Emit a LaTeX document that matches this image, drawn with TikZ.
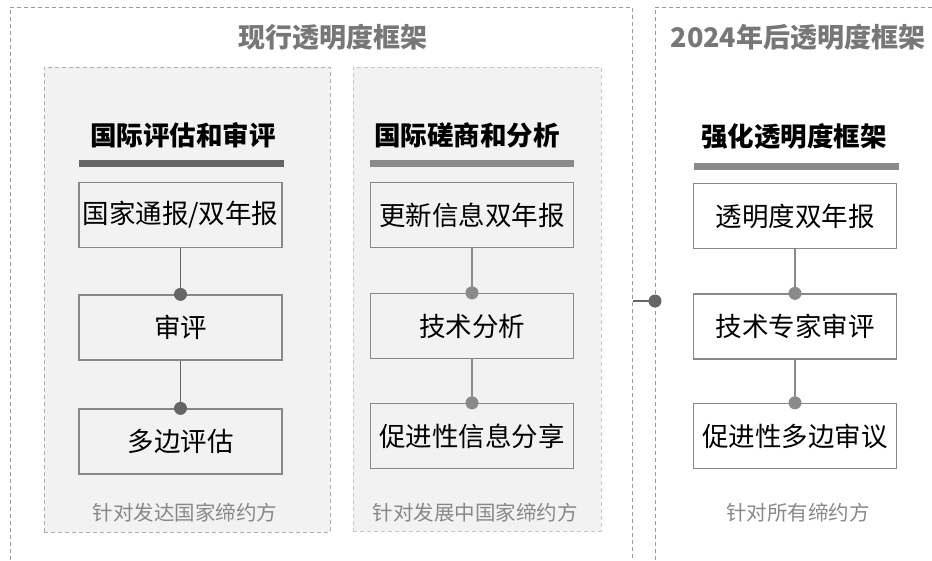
\documentclass[tikz,border=0pt]{standalone}
\usepackage{fontspec}
\setmainfont{Noto Sans CJK SC}
\usetikzlibrary{positioning}

\definecolor{framegray}{HTML}{9A9A9A}
\definecolor{panelfill}{HTML}{F2F2F2}
\definecolor{darkbar}{HTML}{666666}
\definecolor{lightbar}{HTML}{8A8A8A}
\definecolor{titlegray}{HTML}{777777}
\definecolor{notegray}{HTML}{888888}

\tikzset{
  outer/.style={draw=framegray, dash pattern=on 4pt off 3pt, line width=0.9pt},
  panel/.style={draw=framegray!80, fill=panelfill, dash pattern=on 4pt off 3pt, line width=0.9pt},
  title/.style={font=\fontsize{27}{32}\selectfont\bfseries, text=titlegray},
  header/.style={font=\fontsize{26.5}{31}\selectfont\bfseries, text=black},
  stepbox/.style={draw=notegray, line width=1.3pt, minimum width=203, minimum height=65,
    font=\fontsize{26.5}{31}\selectfont, inner sep=0pt},
  note/.style={font=\fontsize{20.5}{25}\selectfont, text=notegray},
  link/.style={line width=1.3pt},
}

\begin{document}
\begin{tikzpicture}[x=1pt,y=-1pt]
  \useasboundingbox (0,0) rectangle (932,560);
  \clip (0,0) rectangle (932,560);

  % outer frames
  \node[outer, minimum width=622, minimum height=580, anchor=north west] (cur) at (10,7) {};
  \node[outer, minimum width=300, minimum height=580, anchor=north west] (new) at (655,7) {};
  \node[title] (curT) at (333,37) {现行透明度框架};
  \node[title] (newT) at (798,37) {2024年后透明度框架};

  % inner panels
  \node[panel, minimum width=286, minimum height=465] (p1) at (187,299.5) {};
  \node[panel, draw=framegray!55, minimum width=248, minimum height=464] (p2) at (477,299) {};

  % headers and bars
  \node[header] (h1) at (183,135) {国际评估和审评};
  \node[header] (h2) at (467,135) {国际磋商和分析};
  \node[header] (h3) at (794,137) {强化透明度框架};
  \draw[darkbar, line width=7pt] (79,163.5) -- (284,163.5);
  \draw[lightbar, line width=7pt] (370,163.5) -- (574,163.5);
  \draw[lightbar, line width=7pt] (694,166) -- (899,166);

  % column 1
  \node[stepbox, fill=panelfill] (a1) at (180.5,215) {国家通报/双年报};
  \node[stepbox, fill=panelfill] (a2) at (180.5,327.5) {审评};
  \node[stepbox, fill=panelfill] (a3) at (180.5,441.5) {多边评估};

  % column 2
  \node[stepbox, fill=panelfill] (b1) at (472,215) {更新信息双年报};
  \node[stepbox, fill=panelfill] (b2) at (472,326) {技术分析};
  \node[stepbox, fill=panelfill] (b3) at (472,436) {促进性信息分享};

  % column 3
  \node[stepbox, fill=white] (c1) at (795,216) {透明度双年报};
  \node[stepbox, fill=white] (c2) at (795,326.5) {技术专家审评};
  \node[stepbox, fill=white] (c3) at (795,436) {促进性多边审议};

  % connectors
  \draw[link, darkbar] (a1) -- (a2.north);
  \draw[link, darkbar] (a2) -- (a3.north);
  \fill[darkbar] (a2.north) circle (6.5pt) (a3.north) circle (6.5pt);
  \draw[link, lightbar] (b1) -- (b2.north);
  \draw[link, lightbar] (b2) -- (b3.north);
  \fill[lightbar] (b2.north) circle (6.5pt) (b3.north) circle (6.5pt);
  \draw[link, lightbar] (c1) -- (c2.north);
  \draw[link, lightbar] (c2) -- (c3.north);
  \fill[lightbar] (c2.north) circle (6.5pt) (c3.north) circle (6.5pt);

  % link between frames
  \coordinate (mid) at (640,301);
  \draw[link, darkbar] (cur.east |- mid) -- (new.west |- mid);
  \fill[darkbar] (new.west |- mid) circle (6.5pt);

  % notes
  \node[note] (n1) at (185,513) {针对发达国家缔约方};
  \node[note] (n2) at (475,513) {针对发展中国家缔约方};
  \node[note] (n3) at (798,513) {针对所有缔约方};
\end{tikzpicture}
\end{document}
